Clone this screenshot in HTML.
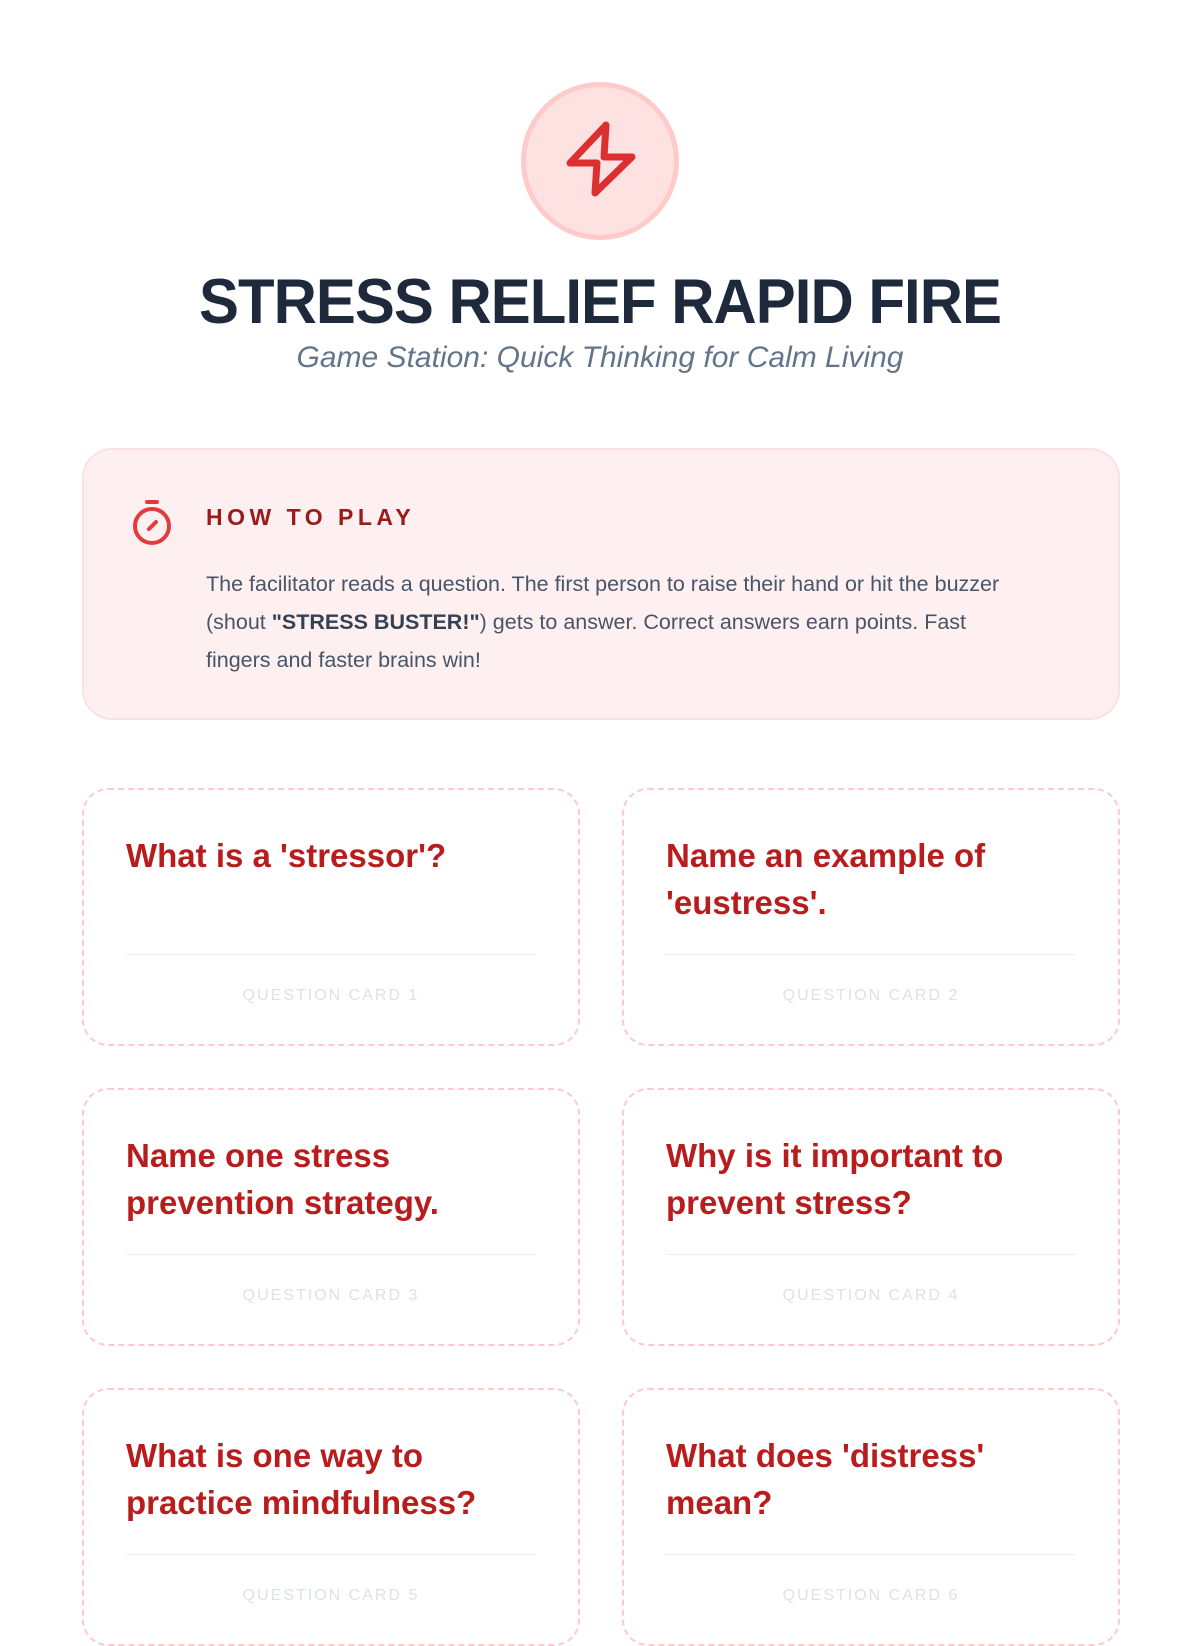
<!DOCTYPE html>
<html><head><style>
*{margin:0;padding:0;box-sizing:border-box}
body{width:1200px;height:1600px;background:#fff;font-family:"Liberation Sans",sans-serif;position:relative;overflow:hidden}
.circle{position:absolute;left:521px;top:82px;width:158px;height:158px;border-radius:50%;background:#fee2e2;border:5px solid #fecaca}
h1{position:absolute;left:0;width:1200px;top:266px;text-align:center;font-size:63px;font-weight:900;color:#1e293b;letter-spacing:-1px;transform:scaleX(0.95)}
.sub{position:absolute;left:0;width:1200px;top:341px;text-align:center;font-size:30px;font-style:italic;color:#64748b}
.how{position:absolute;left:82px;top:448px;width:1038px;height:272px;background:#fef0f0;border:2px solid #fde0e0;border-radius:30px}
.how h2{position:absolute;left:122px;top:54px;font-size:23px;letter-spacing:4.5px;color:#991b1b;font-weight:bold}
.how p{position:absolute;left:122px;top:115px;width:815px;font-size:21.5px;line-height:38px;color:#475569}
.how p b{color:#334155}
.card{position:absolute;width:498px;height:258px;border:2.5px dashed #fecaca;border-radius:26px}
.card .q{position:absolute;left:42px;top:42px;width:405px;font-size:33px;line-height:47px;font-weight:bold;color:#b91c1c}
.card .d{position:absolute;left:42px;right:42px;top:164px;border-top:1.5px solid #f5eaea}
.card .l{position:absolute;left:0;right:0;top:197px;text-align:center;font-size:16px;letter-spacing:2px;color:#dbe2ea}
</style></head><body>
<div class="circle"><svg width="148" height="148" viewBox="0 0 148 148" style="position:absolute;left:0;top:0"><path d="M80 38 L44 76 L71 76 L69 106 L106 70 L78 70 Z" fill="none" stroke="#dc2f2f" stroke-width="7" stroke-linejoin="round" stroke-linecap="round"/></svg></div>
<h1>STRESS RELIEF RAPID FIRE</h1>
<div class="sub">Game Station: Quick Thinking for Calm Living</div>
<div class="how">
<svg width="50" height="56" style="position:absolute;left:44px;top:44px" viewBox="0 0 50 56"><line x1="19" y1="8" x2="29" y2="8" stroke="#e23b3b" stroke-width="4" stroke-linecap="round"/><circle cx="24" cy="32" r="17" fill="none" stroke="#e23b3b" stroke-width="4"/><line x1="21" y1="35" x2="28" y2="28" stroke="#e23b3b" stroke-width="4" stroke-linecap="round"/></svg>
<h2>HOW TO PLAY</h2>
<p>The facilitator reads a question. The first person to raise their hand or hit the buzzer (shout <b>"STRESS BUSTER!"</b>) gets to answer. Correct answers earn points. Fast fingers and faster brains win!</p>
</div>
<div class="card" style="left:82px;top:788px"><div class="q">What is a 'stressor'?</div><div class="d"></div><div class="l">QUESTION CARD 1</div></div>
<div class="card" style="left:622px;top:788px"><div class="q">Name an example of 'eustress'.</div><div class="d"></div><div class="l">QUESTION CARD 2</div></div>
<div class="card" style="left:82px;top:1088px"><div class="q">Name one stress prevention strategy.</div><div class="d"></div><div class="l">QUESTION CARD 3</div></div>
<div class="card" style="left:622px;top:1088px"><div class="q">Why is it important to prevent stress?</div><div class="d"></div><div class="l">QUESTION CARD 4</div></div>
<div class="card" style="left:82px;top:1388px"><div class="q">What is one way to practice mindfulness?</div><div class="d"></div><div class="l">QUESTION CARD 5</div></div>
<div class="card" style="left:622px;top:1388px"><div class="q">What does 'distress' mean?</div><div class="d"></div><div class="l">QUESTION CARD 6</div></div>
</body></html>
